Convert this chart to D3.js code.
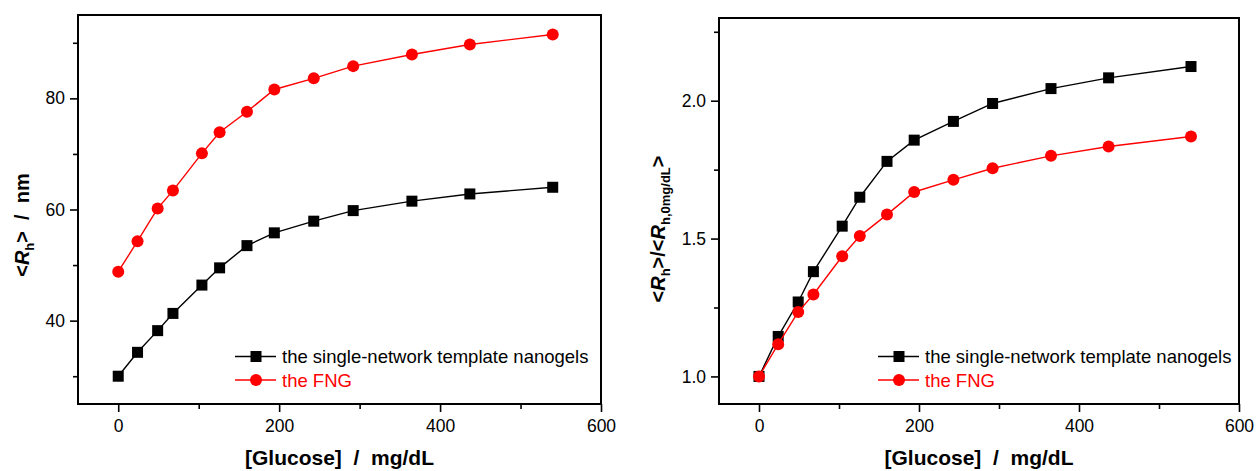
<!DOCTYPE html>
<html>
<head>
<meta charset="utf-8">
<script src="https://cdn.jsdelivr.net/npm/d3@7"></script>
<style>
  body { margin: 0; background: #fff; }
  svg { display: block; font-family: "Liberation Sans", Arial, sans-serif; }
  .tick text { font-size: 17.5px; fill: #000; }
  .tick line { stroke: #000; stroke-width: 1.6px; }
</style>
</head>
<body>
<svg id="chart" width="1256" height="471"></svg>
<script>
// 葡萄糖浓度 (mg/dL)
var glucose = [0, 24, 49, 68, 104, 126, 160, 194, 243, 292, 365, 437, 540];
// 左图：<Rh> / nm
var rhSingle = [30.0, 34.3, 38.2, 41.3, 46.4, 49.5, 53.5, 55.8, 57.9, 59.8, 61.5, 62.8, 64.0];
var rhFNG = [48.8, 54.3, 60.2, 63.4, 70.1, 73.9, 77.6, 81.6, 83.6, 85.8, 87.9, 89.7, 91.5];
// 右图：<Rh>/<Rh,0mg/dL>
var ratioSingle = [1.0, 1.145, 1.27, 1.38, 1.545, 1.65, 1.78, 1.857, 1.925, 1.99, 2.044, 2.083, 2.124];
var ratioFNG = [1.0, 1.117, 1.234, 1.297, 1.436, 1.509, 1.587, 1.669, 1.713, 1.755, 1.80, 1.834, 1.870];
// 刻度
var xMajor = [0, 200, 400, 600];
var xMinor = [100, 300, 500];
var leftMajor = [40, 60, 80];
var leftMinor = [30, 50, 70, 90];
var rightMajor = [1.0, 1.5, 2.0];
var rightMinor = [1.25, 1.75, 2.25];
var legendNames = ["the single-network template nanogels", "the FNG"];

var svg = d3.select("#chart");

/* 画一个子图 */
function drawPanel(opt) {
    var x = d3.scaleLinear().domain([-50, 600]).range([opt.left, opt.right]);
    var y = d3.scaleLinear().domain(opt.yDomain).range([opt.bottom, opt.top]);
    var g = svg.append("g");

    // 次刻度
    g.append("g").attr("transform", "translate(0," + opt.bottom + ")")
        .call(d3.axisBottom(x).tickValues(xMinor).tickSize(5).tickFormat(""))
        .call(function (a) { a.select(".domain").remove(); });
    g.append("g").attr("transform", "translate(" + opt.left + ",0)")
        .call(d3.axisLeft(y).tickValues(opt.yMinor).tickSize(5).tickFormat(""))
        .call(function (a) { a.select(".domain").remove(); });
    // 主刻度
    g.append("g").attr("transform", "translate(0," + opt.bottom + ")")
        .call(d3.axisBottom(x).tickValues(xMajor).tickSize(8).tickPadding(8).tickFormat(d3.format("d")))
        .call(function (a) { a.select(".domain").remove(); });
    g.append("g").attr("transform", "translate(" + opt.left + ",0)")
        .call(d3.axisLeft(y).tickValues(opt.yMajor).tickSize(8).tickPadding(5).tickFormat(opt.yFormat))
        .call(function (a) { a.select(".domain").remove(); });

    // 边框
    g.append("rect")
        .attr("x", opt.left).attr("y", opt.top)
        .attr("width", opt.right - opt.left).attr("height", opt.bottom - opt.top)
        .attr("fill", "none").attr("stroke", "#000").attr("stroke-width", 2);

    var line = d3.line().x(function (d, i) { return x(glucose[i]); }).y(function (d) { return y(d); });
    var series = [
        { values: opt.single, color: "#000", shape: "square" },
        { values: opt.fng, color: "#ff0000", shape: "circle" }
    ];
    series.forEach(function (s) {
        g.append("path").datum(s.values)
            .attr("d", line).attr("fill", "none")
            .attr("stroke", s.color).attr("stroke-width", 1.4);
        drawMarkers(g, s, s.values.map(function (d, i) { return [x(glucose[i]), y(d)]; }));
    });

    // 图例
    series.forEach(function (s, i) {
        var ly = opt.legendY + i * 23.5;
        g.append("line")
            .attr("x1", opt.legendX).attr("x2", opt.legendX + 41)
            .attr("y1", ly).attr("y2", ly)
            .attr("stroke", s.color).attr("stroke-width", 1.4);
        drawMarkers(g, s, [[opt.legendX + 21, ly]]);
        g.append("text")
            .attr("x", opt.legendX + 47).attr("y", ly).attr("dy", "0.36em")
            .attr("font-size", 18.5).attr("fill", s.color)
            .text(legendNames[i]);
    });

    // X轴标题
    g.append("text")
        .attr("x", (opt.left + opt.right) / 2).attr("y", 465)
        .attr("text-anchor", "middle").attr("font-size", 21).attr("font-weight", "bold")
        .style("white-space", "pre")
        .text("[Glucose]  /  mg/dL");

    // Y轴标题
    var yt = g.append("text")
        .attr("transform", "translate(" + opt.titleX + "," + opt.titleY + ") rotate(-90)")
        .attr("text-anchor", "middle").attr("font-size", 20).attr("font-weight", "bold")
        .style("white-space", "pre");
    opt.title(yt);
}

function drawMarkers(g, s, pts) {
    if (s.shape === "square") {
        g.selectAll(null).data(pts).enter().append("rect")
            .attr("x", function (d) { return d[0] - 5.5; })
            .attr("y", function (d) { return d[1] - 5.5; })
            .attr("width", 11).attr("height", 11)
            .attr("fill", s.color);
    } else {
        g.selectAll(null).data(pts).enter().append("circle")
            .attr("cx", function (d) { return d[0]; })
            .attr("cy", function (d) { return d[1]; })
            .attr("r", 6).attr("fill", s.color);
    }
}

function rh(t, sub) {
    t.append("tspan").text("<");
    t.append("tspan").attr("font-style", "italic").text("R");
    t.append("tspan").attr("font-size", 13).attr("dy", 5).text(sub);
    t.append("tspan").attr("dy", -5).text(">");
}

drawPanel({
    left: 78, right: 601, top: 15, bottom: 404,
    yDomain: [25, 95], yMajor: leftMajor, yMinor: leftMinor, yFormat: d3.format("d"),
    single: rhSingle, fng: rhFNG,
    legendX: 235, legendY: 356.5,
    titleX: 29, titleY: 225,
    title: function (t) {
        rh(t, "h");
        t.append("tspan").text("  /  nm");
    }
});

drawPanel({
    left: 719, right: 1239, top: 18, bottom: 404,
    yDomain: [0.9, 2.3], yMajor: rightMajor, yMinor: rightMinor, yFormat: d3.format(".1f"),
    single: ratioSingle, fng: ratioFNG,
    legendX: 878, legendY: 356.5,
    titleX: 665, titleY: 229,
    title: function (t) {
        rh(t, "h");
        t.append("tspan").text("/");
        rh(t, "h,0mg/dL");
    }
});
</script>
</body>
</html>
